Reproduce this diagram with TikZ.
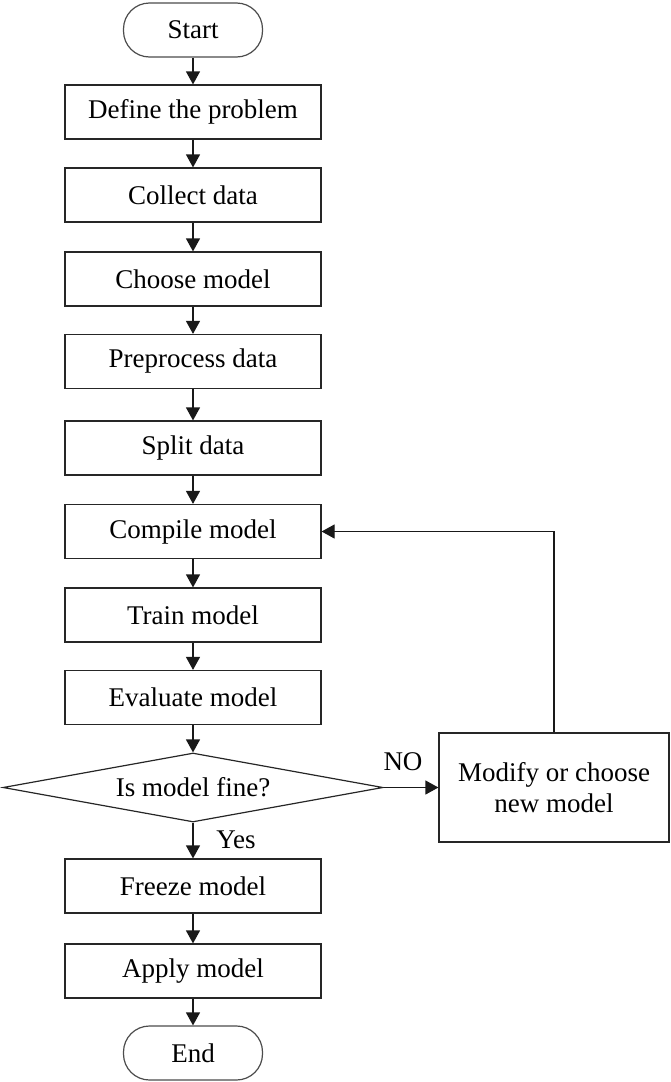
\documentclass[tikz,border=0pt]{standalone}
\usepackage{fontspec}
\setmainfont{Liberation Serif}
\usetikzlibrary{shapes.geometric,arrows.meta}
\begin{document}
\begin{tikzpicture}[x=1pt,y=-1pt,
  every node/.style={font=\fontsize{27}{31}\selectfont},
  proc/.style={draw=black!85, line width=1.2pt, minimum width=256pt, minimum height=54pt, inner sep=0pt},
  term/.style={draw=black!70, line width=1.2pt, rounded corners=26pt, minimum width=139pt, minimum height=54pt, inner sep=0pt},
  dec/.style={draw=black!85, line width=1.2pt, shape=diamond, aspect=5.5, minimum width=380pt, minimum height=69pt, inner sep=0pt},
  arr/.style={-{Triangle[length=13pt,width=14pt]}, line width=1.2pt, draw=black!90}]
\useasboundingbox (0,0) rectangle (670,1082);
\node[term] (start) at (193,30) {Start};
\node[proc] (define) at (193,112) {Define the problem};
\node[proc] (collect) at (193,195) {Collect data};
\node[proc] (choose) at (193,279) {Choose model};
\node[proc] (prep) at (193,361.5) {Preprocess data};
\node[proc] (split) at (193,448) {Split data};
\node[proc] (compile) at (193,531.5) {Compile model};
\node[proc] (train) at (193,615) {Train model};
\node[proc] (eval) at (193,697.5) {Evaluate model};
\node[dec] (fine) at (193,787.5) {Is model fine?};
\node[draw=black!85, line width=1.2pt, minimum width=230pt, minimum height=109pt, inner sep=0pt, align=center] (modify) at (554,787.5) {Modify or choose\\new model};
\node[proc] (freeze) at (193,886) {Freeze model};
\node[proc] (apply) at (193,971) {Apply model};
\node[term] (end) at (193,1053) {End};
\node[anchor=base] (no) at (403,770) {NO};
\node[anchor=base] (yes) at (236,848) {Yes};
\draw[arr] (start) -- (define);
\draw[arr] (define) -- (collect);
\draw[arr] (collect) -- (choose);
\draw[arr] (choose) -- (prep);
\draw[arr] (prep) -- (split);
\draw[arr] (split) -- (compile);
\draw[arr] (compile) -- (train);
\draw[arr] (train) -- (eval);
\draw[arr] (eval) -- (fine);
\draw[arr] (fine.east) -- (modify.west);
\draw[arr] (modify.north) |- (compile.east);
\draw[arr] (fine.south) -- (freeze);
\draw[arr] (freeze) -- (apply);
\draw[arr] (apply) -- (end);
\end{tikzpicture}
\end{document}
